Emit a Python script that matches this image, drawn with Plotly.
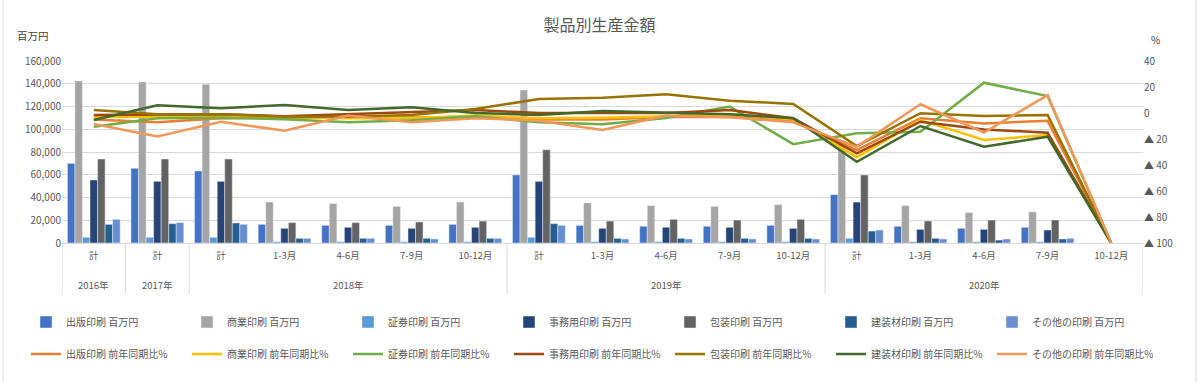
import plotly.graph_objects as go

years = ["2016年", "2017年"] + ["2018年"] * 5 + ["2019年"] * 5 + ["2020年"] * 5
periods = ["計", "計"] + ["計", "1-3月", "4-6月", "7-9月", "10-12月"] * 3

bar_names = ["出版印刷 百万円", "商業印刷 百万円", "証券印刷 百万円", "事務用印刷 百万円",
             "包装印刷 百万円", "建装材印刷 百万円", "その他の印刷 百万円"]
bar_colors = ["#4472C4", "#A5A5A5", "#5B9BD5", "#264478", "#636363", "#255E91", "#698ED0"]

shuppan = [70000, 65700, 63300, 16400, 15500, 15500, 16400, 59800, 15500, 14700, 14700, 15500, 42500, 14700, 12900, 13800, None]
shogyo = [142400, 141500, 139500, 36000, 34600, 32200, 36000, 134500, 35200, 32800, 32200, 33700, 89000, 32800, 26700, 27300, None]
shoken = [5000, 5000, 5000, 1100, 1100, 1100, 1100, 5000, 1100, 1100, 1100, 1100, 4100, 1100, 1100, 1100, None]
jimu = [55400, 54200, 54200, 12900, 13800, 12900, 13800, 54200, 12900, 13800, 13800, 12900, 36000, 12000, 12000, 11400, None]
hoso = [73850, 73850, 73850, 17900, 17900, 18500, 19300, 82000, 19300, 20800, 20200, 20800, 59800, 19300, 20200, 20200, None]
kenso = [16400, 17000, 17600, 4100, 4100, 4100, 4100, 17000, 4100, 4100, 4100, 4100, 10500, 4100, 2600, 3500, None]
sonota = [20800, 17900, 16400, 4100, 4100, 3500, 4100, 15500, 3500, 3500, 3500, 3500, 11400, 3500, 3500, 4100, None]
bar_values = [shuppan, shogyo, shoken, jimu, hoso, kenso, sonota]

line_names = ["出版印刷 前年同期比%", "商業印刷 前年同期比%", "証券印刷 前年同期比%", "事務用印刷 前年同期比%",
              "包装印刷 前年同期比%", "建装材印刷 前年同期比%", "その他の印刷 前年同期比%"]
line_colors = ["#ED7D31", "#FFC000", "#70AD47", "#9E480E", "#997300", "#43682B", "#F1975A"]

shuppan_r = [-5, -7.2, -4, -4, -4, -3.5, -3, -5, -5, -3, -2.8, -6.2, -28.5, -4, -8, -6, -100]
shogyo_r = [-3, -2.8, -2.5, -3, -4, -4, -2, -4, -3.6, -2.5, -1, -5, -34, -5.4, -20.8, -17, -100]
shoken_r = [-10.5, -4, -3.6, -4.8, -7.2, -5.5, -2.5, -7.2, -8.7, -3.8, 4.9, -24, -15.6, -14.4, 23.3, 13, -100]
jimu_r = [-1.5, -1, -1, -2.5, -1, 1, 2.3, 0, 0, 0, 2.3, -4, -31, -6.7, -12.6, -15.2, -100]
hoso_r = [2.3, -1, -1, -2.8, -2.8, -1.5, 3, 10.8, 11.8, 14.4, 9.5, 6.9, -25.4, -0.2, -2.3, -1.5, -100]
kenso_r = [-5.4, 5.9, 3.6, 6.2, 2.3, 4.4, 0, -1.5, 1.5, 0, -1, -4, -37.5, -10, -26, -18.2, -100]
sonota_r = [-8.5, -18, -6.7, -13.6, -2, -7.2, -4, -6, -13, -2, -3.3, -7.2, -26, 6.7, -15, 13.8, -100]
line_values = [shuppan_r, shogyo_r, shoken_r, jimu_r, hoso_r, kenso_r, sonota_r]

left_ticks = [0, 20000, 40000, 60000, 80000, 100000, 120000, 140000, 160000]
right_ticks = [40, 20, 0, -20, -40, -60, -80, -100]
right_labels = ["40", "20", "0", "▲ 20", "▲ 40", "▲ 60", "▲ 80", "▲ 100"]

FONT = "Noto Sans CJK JP"
GRAY = "#595959"
GRID = "#D9D9D9"

W, H = 1199, 382
L, R, T, B = 62, 56, 61, 139
pw = W - L - R
ph = H - T - B

def px(xp):
    return (xp - L) / pw

def py(yp):
    return (H - B - yp) / ph

xi = list(range(len(periods)))

fig = go.Figure()
for name, color, vals in zip(bar_names, bar_colors, bar_values):
    fig.add_trace(go.Bar(x=xi, y=vals, name=name, marker_color=color, legend="legend"))
for name, color, vals in zip(line_names, line_colors, line_values):
    fig.add_trace(go.Scatter(x=xi, y=vals, name=name, mode="lines", yaxis="y2",
                             line=dict(color=color, width=2.5), legend="legend2"))

# year group labels and dividers derived from the category lists
groups = []
for i, yv in enumerate(years):
    if groups and groups[-1][0] == yv:
        groups[-1][2] = i
    else:
        groups.append([yv, i, i])

annotations = [
    dict(text="百万円", xref="paper", yref="paper", x=px(15), y=py(35), xanchor="left",
         yanchor="middle", showarrow=False, font=dict(size=10.5, color="#404040")),
    dict(text="%", xref="paper", yref="paper", x=px(1149), y=py(40), xanchor="left",
         yanchor="middle", showarrow=False, font=dict(size=10, color="#404040")),
]
shapes = []
for yv, a, b in groups:
    annotations.append(dict(text=yv, xref="x", yref="paper", x=(a + b) / 2, y=py(285),
                            xanchor="center", yanchor="middle", showarrow=False,
                            font=dict(size=9.5, color=GRAY)))
    shapes.append(dict(type="line", xref="x", yref="paper", x0=a - 0.5, x1=a - 0.5,
                       y0=0, y1=py(294), line=dict(color=GRID, width=1)))
shapes.append(dict(type="line", xref="x", yref="paper", x0=len(xi) - 0.5, x1=len(xi) - 0.5,
                   y0=0, y1=py(294), line=dict(color=GRID, width=1)))
# chart-area frame edges
for fx in (3, 1196):
    shapes.append(dict(type="line", xref="paper", yref="paper", x0=px(fx), x1=px(fx),
                       y0=py(H), y1=py(0), line=dict(color=GRID, width=1)))

fig.update_layout(
    width=W, height=H,
    margin=dict(l=L, r=R, t=T, b=B),
    paper_bgcolor="white", plot_bgcolor="white",
    font=dict(family=FONT, size=10, color=GRAY),
    barmode="group", bargap=0.17, bargroupgap=0,
    title=dict(text="製品別生産金額", x=0.5, xanchor="center", y=1 - 25 / H, yanchor="middle",
               font=dict(size=16, color=GRAY, family=FONT)),
    xaxis=dict(range=[-0.5, len(xi) - 0.5], tickvals=xi, ticktext=periods, showgrid=False,
               showline=True, linecolor=GRID, ticks="", zeroline=False,
               tickfont=dict(size=9.5, color=GRAY), ticklabelstandoff=4),
    yaxis=dict(range=[0, 160000], tickvals=left_ticks, tickformat=",", showgrid=True,
               gridcolor=GRID, zeroline=False, tickfont=dict(size=10, color=GRAY)),
    yaxis2=dict(range=[-100, 40], overlaying="y", side="right", tickvals=right_ticks,
                ticktext=right_labels, showgrid=False, zeroline=False,
                tickfont=dict(size=10, color=GRAY)),
    legend=dict(orientation="h", x=px(26), xanchor="left", y=py(322), yanchor="middle",
                entrywidth=116, font=dict(size=10, color=GRAY), itemwidth=30,
                bgcolor="rgba(0,0,0,0)"),
    legend2=dict(orientation="h", x=px(26), xanchor="left", y=py(354), yanchor="middle",
                 entrywidth=116, font=dict(size=10, color=GRAY), itemwidth=30,
                 bgcolor="rgba(0,0,0,0)"),
    annotations=annotations,
    shapes=shapes,
)

fig.write_html("out.html", config={"displayModeBar": False},
               post_script="document.body.style.margin='0px';document.body.style.overflow='hidden';")
